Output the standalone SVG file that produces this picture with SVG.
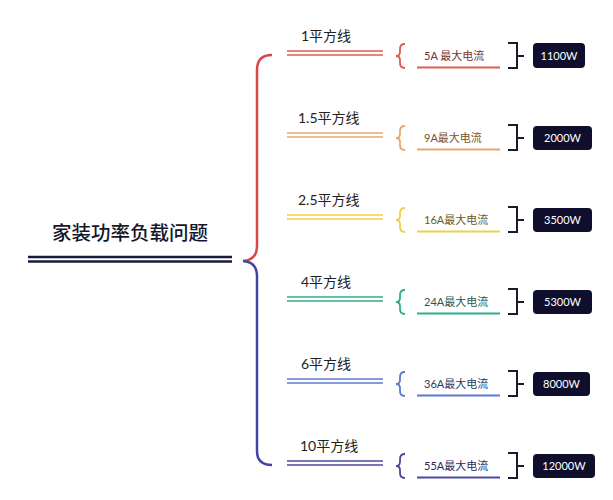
<svg xmlns="http://www.w3.org/2000/svg" width="613" height="500" viewBox="0 0 613 500">
<style>
text{font-family:Lato,"Noto Sans CJK SC",sans-serif}
.title{font-size:19.5px;fill:#15152b;font-weight:500;font-family:"Noto Sans CJK SC",sans-serif}
.lbl{font-size:14px;fill:#222}
.sub{font-size:11px}
.val{font-size:11px;fill:#fff;text-anchor:middle}
.box{fill:#0f0f2d}
.brk{fill:none;stroke:#1a1a2e;stroke-width:2}
.dl{stroke-width:1.6;fill:none}
.br{fill:none;stroke-width:1.8}
.ul{stroke-width:2}
</style>
<rect width="613" height="500" fill="#fff"/>
<g id="root">
<text class="title" x="52" y="240">家装功率负载问题</text>
<line x1="28" y1="257" x2="232" y2="257" stroke="#1a1a3a" stroke-width="2.5"/>
<line x1="28" y1="261.5" x2="232" y2="261.5" stroke="#1a1a3a" stroke-width="2.5"/>
</g>
<g id="connectors">
<path d="M272 55 Q257 55 257 70 L257 246 Q257 260 243 261" fill="none" stroke="#d94848" stroke-width="2.5"/>
<path d="M243 261 Q257 262 257 276 L257 451 Q257 465 272 465" fill="none" stroke="#4343a8" stroke-width="2.5"/>
</g>
<g id="row1" transform="translate(0,53)">
<text class="lbl" x="301" y="-12">1平方线</text>
<line class="dl" x1="287" y1="-2" x2="383" y2="-2" stroke="#e05a55"/>
<line class="dl" x1="287" y1="2" x2="383" y2="2" stroke="#e05a55"/>
<path class="br" stroke="#e05a55" d="M405 -9 Q400 -9 400 -4 L400 -1 Q400 3 396 3 Q400 3 400 7 L400 10 Q400 15 405 15"/>
<text class="sub" x="424" y="6.5" fill="#7a3030">5A 最大电流</text>
<line class="ul" x1="417" y1="14.5" x2="500" y2="14.5" stroke="#e05a55"/>
<path class="brk" d="M508 -10 L517 -10 L517 15 L508 15 M517 3 L524 3"/>
<rect class="box" x="533" y="-10" width="52" height="25" rx="4"/>
<text class="val" x="559" y="6.5">1100W</text>
</g>
<g id="row2" transform="translate(0,135)">
<text class="lbl" x="298" y="-12">1.5平方线</text>
<line class="dl" x1="287" y1="-2" x2="383" y2="-2" stroke="#e6a870"/>
<line class="dl" x1="287" y1="2" x2="383" y2="2" stroke="#e6a870"/>
<path class="br" stroke="#e6a870" d="M405 -9 Q400 -9 400 -4 L400 -1 Q400 3 396 3 Q400 3 400 7 L400 10 Q400 15 405 15"/>
<text class="sub" x="424" y="6.5" fill="#7a5030">9A最大电流</text>
<line class="ul" x1="417" y1="14.5" x2="500" y2="14.5" stroke="#e6a870"/>
<path class="brk" d="M508 -10 L517 -10 L517 15 L508 15 M517 3 L524 3"/>
<rect class="box" x="533" y="-9" width="59" height="24" rx="4"/>
<text class="val" x="562.5" y="6.5">2000W</text>
</g>
<g id="row3" transform="translate(0,217)">
<text class="lbl" x="298" y="-12">2.5平方线</text>
<line class="dl" x1="287" y1="-2" x2="383" y2="-2" stroke="#ecd24a"/>
<line class="dl" x1="287" y1="2" x2="383" y2="2" stroke="#ecd24a"/>
<path class="br" stroke="#ecd24a" d="M405 -9 Q400 -9 400 -4 L400 -1 Q400 3 396 3 Q400 3 400 7 L400 10 Q400 15 405 15"/>
<text class="sub" x="424" y="6.5" fill="#6a5a20">16A最大电流</text>
<line class="ul" x1="417" y1="14.5" x2="500" y2="14.5" stroke="#ecd24a"/>
<path class="brk" d="M508 -10 L517 -10 L517 15 L508 15 M517 3 L524 3"/>
<rect class="box" x="533" y="-9" width="59" height="24" rx="4"/>
<text class="val" x="562.5" y="6.5">3500W</text>
</g>
<g id="row4" transform="translate(0,299)">
<text class="lbl" x="301" y="-12">4平方线</text>
<line class="dl" x1="287" y1="-2" x2="383" y2="-2" stroke="#2fae8a"/>
<line class="dl" x1="287" y1="2" x2="383" y2="2" stroke="#2fae8a"/>
<path class="br" stroke="#2fae8a" d="M405 -9 Q400 -9 400 -4 L400 -1 Q400 3 396 3 Q400 3 400 7 L400 10 Q400 15 405 15"/>
<text class="sub" x="424" y="6.5" fill="#1f5a50">24A最大电流</text>
<line class="ul" x1="417" y1="14.5" x2="500" y2="14.5" stroke="#2fae8a"/>
<path class="brk" d="M508 -10 L517 -10 L517 15 L508 15 M517 3 L524 3"/>
<rect class="box" x="533" y="-9" width="59" height="24" rx="4"/>
<text class="val" x="562.5" y="6.5">5300W</text>
</g>
<g id="row5" transform="translate(0,381)">
<text class="lbl" x="301" y="-12">6平方线</text>
<line class="dl" x1="287" y1="-2" x2="383" y2="-2" stroke="#5c7ad0"/>
<line class="dl" x1="287" y1="2" x2="383" y2="2" stroke="#5c7ad0"/>
<path class="br" stroke="#5c7ad0" d="M405 -9 Q400 -9 400 -4 L400 -1 Q400 3 396 3 Q400 3 400 7 L400 10 Q400 15 405 15"/>
<text class="sub" x="424" y="6.5" fill="#2a3a6a">36A最大电流</text>
<line class="ul" x1="417" y1="14.5" x2="500" y2="14.5" stroke="#5c7ad0"/>
<path class="brk" d="M508 -10 L517 -10 L517 15 L508 15 M517 3 L524 3"/>
<rect class="box" x="533" y="-9" width="57" height="24" rx="4"/>
<text class="val" x="561.5" y="6.5">8000W</text>
</g>
<g id="row6" transform="translate(0,463)">
<text class="lbl" x="300" y="-12">10平方线</text>
<line class="dl" x1="287" y1="-2" x2="383" y2="-2" stroke="#4b4aa0"/>
<line class="dl" x1="287" y1="2" x2="383" y2="2" stroke="#4b4aa0"/>
<path class="br" stroke="#4b4aa0" d="M405 -9 Q400 -9 400 -4 L400 -1 Q400 3 396 3 Q400 3 400 7 L400 10 Q400 15 405 15"/>
<text class="sub" x="424" y="6.5" fill="#2a2a5a">55A最大电流</text>
<line class="ul" x1="417" y1="14.5" x2="500" y2="14.5" stroke="#4b4aa0"/>
<path class="brk" d="M508 -10 L517 -10 L517 15 L508 15 M517 3 L524 3"/>
<rect class="box" x="533" y="-9" width="62" height="24" rx="4"/>
<text class="val" x="564" y="6.5">12000W</text>
</g>
</svg>
